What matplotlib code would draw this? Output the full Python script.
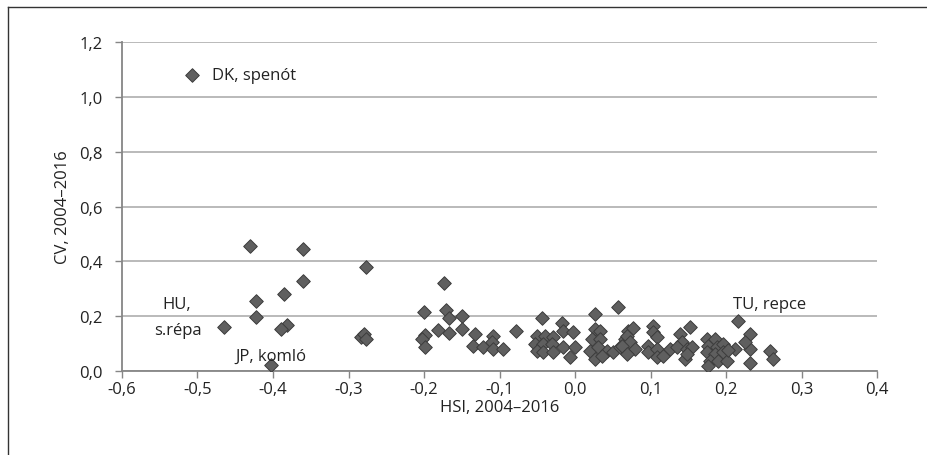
import matplotlib
matplotlib.use('Agg')
import matplotlib.pyplot as plt
from matplotlib.ticker import FuncFormatter, MultipleLocator
from matplotlib.lines import Line2D

plt.rcParams['font.family'] = ['Open Sans', 'DejaVu Sans']

# HSI (x) and CV (y) values
hsi = [-0.507, -0.430, -0.360, -0.277, -0.360, -0.386, -0.422, -0.422, -0.381, -0.390,
       -0.465, -0.284, -0.279, -0.277, -0.403,
       -0.174, -0.200, -0.171, -0.167, -0.150, -0.182, -0.167, -0.150, -0.199, -0.203,
       -0.199, -0.132, -0.109, -0.135, -0.122, -0.110, -0.109, -0.095, -0.078,
       -0.044, -0.017, -0.016, -0.003, 0.027, 0.057, -0.050, -0.040, -0.029, -0.053,
       -0.042, -0.030, -0.050, -0.042, -0.029, -0.016, 0.000, -0.007, 0.027, 0.033,
       0.023, 0.033, 0.020, 0.030, 0.042, 0.027, 0.036, 0.050, 0.060, 0.066, 0.070,
       0.077, 0.103, 0.103, 0.109, 0.152, 0.139, 0.142, 0.069, 0.073, 0.062, 0.079,
       0.069, 0.097, 0.097, 0.109, 0.109, 0.126, 0.117, 0.135, 0.148, 0.155, 0.146,
       0.148,
       0.175, 0.185, 0.176, 0.188, 0.196, 0.175, 0.185, 0.196, 0.179, 0.189, 0.201,
       0.176,
       0.216, 0.232, 0.232, 0.232, 0.212, 0.203, 0.258, 0.262, 0.225]
cv = [1.080, 0.456, 0.445, 0.380, 0.330, 0.280, 0.256, 0.197, 0.168, 0.153,
      0.160, 0.125, 0.135, 0.117, 0.022,
      0.320, 0.215, 0.223, 0.193, 0.200, 0.150, 0.139, 0.153, 0.131, 0.117,
      0.088, 0.135, 0.128, 0.091, 0.088, 0.106, 0.080, 0.080, 0.146,
      0.193, 0.175, 0.146, 0.142, 0.208, 0.234, 0.128, 0.128, 0.124, 0.099,
      0.099, 0.099, 0.073, 0.069, 0.069, 0.088, 0.088, 0.051, 0.153, 0.146,
      0.117, 0.117, 0.073, 0.088, 0.073, 0.044, 0.055, 0.069, 0.088, 0.117, 0.146,
      0.157, 0.164, 0.142, 0.124, 0.161, 0.135, 0.106, 0.128, 0.106, 0.091, 0.080,
      0.062, 0.091, 0.069, 0.080, 0.051, 0.080, 0.055, 0.088, 0.080, 0.088, 0.044,
      0.062,
      0.117, 0.117, 0.091, 0.088, 0.099, 0.069, 0.062, 0.069, 0.037, 0.037, 0.037,
      0.018,
      0.182, 0.135, 0.080, 0.029, 0.080, 0.075, 0.073, 0.044, 0.106]

comma = FuncFormatter(lambda v, p: f'{v:.1f}'.replace('.', ',').replace('-0,0', '0,0'))

fig = plt.figure(figsize=(9.27, 4.56), dpi=100)
ax = fig.add_axes([0.1316, 0.1842, 0.8145, 0.7215])

ax.scatter(hsi, cv, marker='D', s=48, color='#5f5f5f', edgecolors='#3c3c3c',
           linewidths=0.7, zorder=3)

ax.set_xlim(-0.6, 0.4)
ax.set_ylim(0, 1.2)
ax.xaxis.set_major_locator(MultipleLocator(0.1))
ax.yaxis.set_major_locator(MultipleLocator(0.2))
ax.xaxis.set_major_formatter(comma)
ax.yaxis.set_major_formatter(comma)
ax.grid(axis='y', color='#b4b4b4', linewidth=1.3)
ax.set_axisbelow(True)
for s in ['top', 'right']:
    ax.spines[s].set_visible(False)
for s in ['left', 'bottom']:
    ax.spines[s].set_color('#868686')
    ax.spines[s].set_linewidth(1.3)
ax.tick_params(axis='both', direction='out', length=5, width=1, color='#868686',
               labelsize=12, labelcolor='#222222')
ax.tick_params(axis='x', pad=2)
ax.tick_params(axis='y', pad=9)

ax.set_xlabel('HSI, 2004–2016', fontsize=12, color='#222222', labelpad=1.5)
ax.set_ylabel('CV, 2004–2016', fontsize=12, color='#222222', labelpad=6)

# point labels
lbl = dict(fontsize=12, color='#222222')
ax.text(-0.481, 1.08, 'DK, spenót', va='center', ha='left', **lbl)
ax.text(-0.527, 0.245, 'HU,', va='center', ha='center', **lbl)
ax.text(-0.526, 0.150, 's.répa', va='center', ha='center', **lbl)
ax.text(-0.403, 0.055, 'JP, komló', va='center', ha='center', **lbl)
ax.text(0.209, 0.245, 'TU, repce', va='center', ha='left', **lbl)

# outer frame (top and left edges visible)
fig.add_artist(Line2D([8 / 927, 1], [1 - 8 / 456] * 2, transform=fig.transFigure,
                      color='#333333', linewidth=1))
fig.add_artist(Line2D([8 / 927] * 2, [0, 1 - 8 / 456], transform=fig.transFigure,
                      color='#333333', linewidth=1))

fig.savefig('out.png', dpi=100)
